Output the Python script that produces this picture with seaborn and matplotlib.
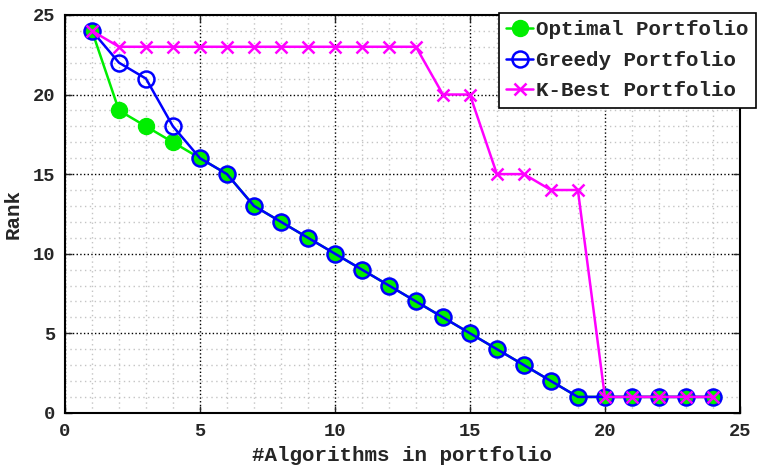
import matplotlib
matplotlib.use("Agg")
import matplotlib.pyplot as plt
import seaborn as sns
import numpy as np
from matplotlib.ticker import MultipleLocator

n_algos = list(range(1, 25))
optimal = [24, 19, 18, 17, 16, 15, 13, 12, 11, 10, 9, 8, 7, 6, 5, 4, 3, 2, 1, 1, 1, 1, 1, 1]
greedy = [24, 22, 21, 18, 16, 15, 13, 12, 11, 10, 9, 8, 7, 6, 5, 4, 3, 2, 1, 1, 1, 1, 1, 1]
kbest = [24, 23, 23, 23, 23, 23, 23, 23, 23, 23, 23, 23, 23, 20, 20, 15, 15, 14, 14, 1, 1, 1, 1, 1]
labels = ["Optimal Portfolio", "Greedy Portfolio", "K-Best Portfolio"]
xticks = [0, 5, 10, 15, 20, 25]
yticks = [0, 5, 10, 15, 20, 25]

sns.set_style("white")
plt.rcParams["font.family"] = ["Liberation Mono", "DejaVu Sans Mono"]
plt.rcParams["font.weight"] = "bold"

fig = plt.figure(figsize=(7.6, 4.67), dpi=100)
ax = fig.add_axes([0.0855, 0.116, 0.888, 0.852])

sns.lineplot(x=n_algos, y=optimal, ax=ax, color="#00ee00", lw=1.8, marker="o",
             markersize=11.5, markerfacecolor="#00ee00", markeredgecolor="#00ee00",
             markeredgewidth=1, label=labels[0], zorder=3)
sns.lineplot(x=n_algos, y=greedy, ax=ax, color="#0000ff", lw=1.8, marker="o",
             markersize=11.5, markerfacecolor="none", markeredgecolor="#0000ff",
             markeredgewidth=1.8, label=labels[1], zorder=4)
sns.lineplot(x=n_algos, y=kbest, ax=ax, color="#ff00ff", lw=1.8, marker="x",
             markersize=8, markeredgecolor="#ff00ff", markeredgewidth=1.8,
             label=labels[2], zorder=5)

ax.set_xlim(0, 25)
ax.set_ylim(0, 25)
ax.set_xticks(xticks)
ax.set_yticks(yticks)
ax.xaxis.set_minor_locator(MultipleLocator(1))
ax.yaxis.set_minor_locator(MultipleLocator(1))
ax.tick_params(which="major", direction="in", length=5, width=1, labelsize=13.5,
               top=True, right=True, bottom=True, left=True, pad=7)
ax.tick_params(which="minor", direction="in", length=0)
ax.grid(True, which="major", color="black", linestyle=":", linewidth=1.0)
ax.grid(True, which="minor", color="#c4c4c4", linestyle=(0, (1, 2.5)), linewidth=1.0)
ax.set_axisbelow(True)
for s in ax.spines.values():
    s.set_color("black")
    s.set_linewidth(1.5)
    s.set_visible(True)

ax.set_xlabel("#Algorithms in portfolio", fontsize=15, fontweight="bold", labelpad=5)
ax.set_ylabel("Rank", fontsize=15, fontweight="bold", labelpad=7)

leg = ax.legend(loc="upper right", bbox_to_anchor=(0.995, 0.972),
                bbox_transform=fig.transFigure, fontsize=15, frameon=True,
                fancybox=False, framealpha=1, edgecolor="black",
                handlelength=1.3, handletextpad=0.15, borderpad=0.35,
                labelspacing=0.55, borderaxespad=0)
leg.get_frame().set_linewidth(1.2)

fig.savefig("out.png", dpi=100)
